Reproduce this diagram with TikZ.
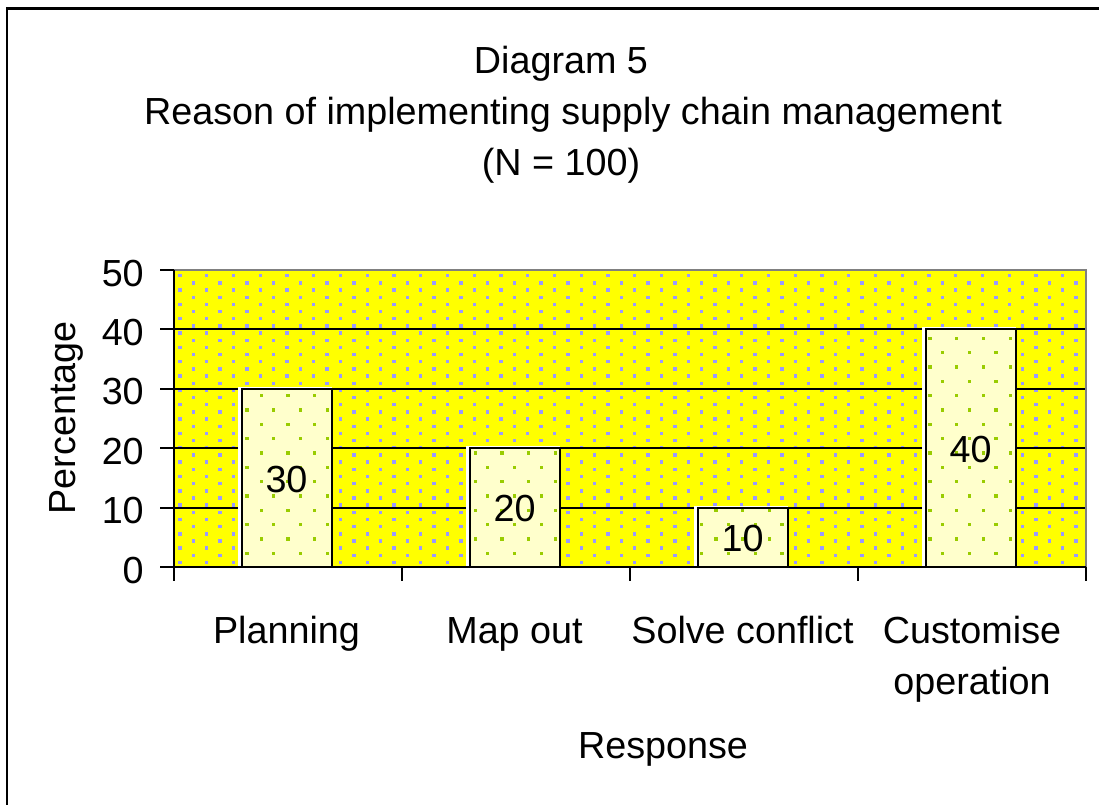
\documentclass[tikz,border=0pt]{standalone}
\usepackage{fontspec}
\setmainfont{Liberation Sans}
\definecolor{bgyellow}{HTML}{FFFF00}
\definecolor{bgdot}{HTML}{9999FF}
\definecolor{barfill}{HTML}{FFFFCC}
\definecolor{bardot}{HTML}{99CC00}
\definecolor{plotborder}{HTML}{808080}
\begin{document}
\begin{tikzpicture}[x=0.75pt,y=-0.75pt,
  font=\fontsize{28.3}{34}\selectfont,
  gridline/.style={line width=1.5pt, black},
  axisline/.style={line width=1.5pt, black},
  barbox/.style={line width=1.5pt, black},
  lbl/.style={anchor=base, inner sep=0pt}]
\clip (0,0) rectangle (1099,804);
\fill[white] (0,0) rectangle (1099,804);
\draw[line width=2.2pt] (7,8.5) rectangle (1200,900);

% plot background with dots
\fill[bgyellow] (174,270) rectangle (1086,567.3);
\begin{scope}
  \clip (174,270) rectangle (1086,567.3);
  \foreach \j in {-1,...,41}{
    \pgfmathsetmacro{\yy}{275.7+7.17*\j}
    \pgfmathsetmacro{\xo}{180+13.375*mod(\j+2,2)}
    \foreach \k in {-1,...,34}{
      \fill[bgdot] ({\xo+26.75*\k-1.7},{\yy-1.7}) rectangle ++(3.4,3.4);
    }
  }
\end{scope}

% gridlines
\foreach \v in {10,20,30,40}{
  \draw[gridline] (174,{567.3-5.946*\v}) -- (1086,{567.3-5.946*\v});
}

% bars
\foreach \i/\v/\nm in {0/30/bA,1/20/bB,2/10/bC,3/40/bD}{
  \pgfmathsetmacro{\cx}{174+228*\i+112.5}
  \pgfmathsetmacro{\xa}{\cx-45}
  \pgfmathsetmacro{\xb}{\cx+45}
  \pgfmathsetmacro{\yt}{567.3-5.946*\v}
  \pgfmathtruncatemacro{\kz}{int((\xa-180)/26.75)-1}
  \pgfmathtruncatemacro{\ke}{\kz+5}
  \fill[white] ({\xa-3.5},{\yt-2}) rectangle (\xb,567.3);
  \fill[barfill] (\xa,\yt) rectangle (\xb,567.3);
  \begin{scope}
    \clip (\xa,\yt) rectangle (\xb,567.3);
    \foreach \r in {0,...,20}{
      \pgfmathsetmacro{\gy}{281+14.33*\r}
      \pgfmathsetmacro{\gx}{181+12.4*mod(\r,2)}
      \foreach \k in {\kz,...,\ke}{
        \fill[bardot] ({\gx+26.75*\k-1.6},{\gy-1.6}) rectangle ++(3.2,3.2);
      }
    }
  \end{scope}
  \draw[barbox] (\xa,\yt) rectangle (\xb,567.3);
  \node[lbl] (\nm) at (\cx,{(\yt+567.3)/2+14}) {\v};
}

% plot border (grey)
\draw[plotborder, line width=2pt] (174,270) -- (1086,270) -- (1086,567.3);

% axes
\draw[axisline] (160,567.3) -- (1086,567.3);
\draw[axisline] (173.5,270) -- (173.5,581);
\foreach \x in {402,630,858,1086}{
  \draw[axisline] (\x,567.3) -- (\x,581);
}
\foreach \v in {10,20,30,40,50}{
  \draw[axisline] (160,{567.3-5.946*\v}) -- (173.5,{567.3-5.946*\v});
}
\foreach \v/\nm in {0/y0,10/y1,20/y2,30/y3,40/y4,50/y5}{
  \node[anchor=base east, inner sep=0pt] (\nm) at (144,{567.3-5.946*\v+16}) {\v};
}

% axis titles
\node[lbl, rotate=90] (ytitle) at (75,418) {Percentage};
\node[lbl] (xtitle) at (663,758) {Response};

% category labels
\node[lbl] (c1) at (286.5,643) {Planning};
\node[lbl] (c2) at (514.5,643) {Map out};
\node[lbl] (c3) at (742.5,643) {Solve conflict};
\node[lbl] (c4a) at (972,643) {Customise};
\node[lbl] (c4b) at (972,694) {operation};

% title
\node[lbl] (t1) at (561,73.3) {Diagram 5};
\node[lbl] (t2) at (573,124.2) {Reason of implementing supply chain management};
\node[lbl] (t3) at (561,175) {(N = 100)};
\end{tikzpicture}
\end{document}
